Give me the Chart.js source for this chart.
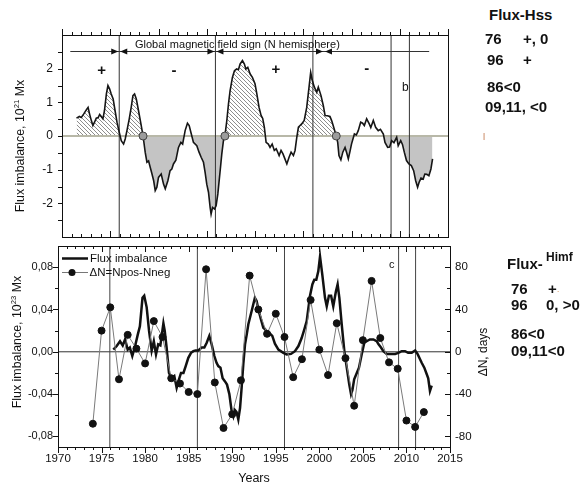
<!DOCTYPE html>
<html>
<head>
<meta charset="utf-8">
<script src="https://cdn.jsdelivr.net/npm/chart.js@4.4.1/dist/chart.umd.min.js"></script>
<style>
html, body { margin: 0; padding: 0; background: #fff; }
#wrap { position: relative; width: 580px; height: 486px; overflow: hidden;
        font-family: "Liberation Sans", Arial, sans-serif; color: #111; }
#wrap canvas { position: absolute; }
.t { position: absolute; white-space: nowrap; line-height: 1; }
.c { transform: translate(-50%, -50%); }
.r { transform: translate(-50%, -50%) rotate(-90deg); }
sup { font-size: 0.62em; vertical-align: 0.6em; line-height: 0; }
</style>
</head>
<body>
<div id="wrap">
  <canvas id="topChart" width="470" height="242" style="left:0;top:0"></canvas>
  <canvas id="bottomChart" width="500" height="246" style="left:0;top:240px"></canvas>
</div>
<script>
// ---- top panel: flux imbalance, 10^21 Mx ----
const topYears = [
  1971.5, 1971.8, 1972.0, 1972.24, 1972.5, 1972.7, 1972.86, 1973.05,
  1973.2, 1973.37, 1973.55, 1973.75, 1973.9, 1974.07, 1974.24, 1974.4,
  1974.6, 1974.76, 1974.93, 1975.1, 1975.3, 1975.5, 1975.7, 1975.93,
  1976.14, 1976.38, 1976.55, 1976.73, 1976.97, 1977.17, 1977.35, 1977.52,
  1977.7, 1977.93, 1978.18, 1978.4, 1978.62, 1978.8, 1978.97, 1979.14,
  1979.3, 1979.5, 1979.66, 1979.83, 1980.0, 1980.28, 1980.52, 1980.7,
  1980.97, 1981.2, 1981.38, 1981.55, 1981.8, 1982.07, 1982.32, 1982.5,
  1982.76, 1983.0, 1983.18, 1983.4, 1983.62, 1983.97, 1984.2, 1984.42,
  1984.66, 1984.83, 1985.0, 1985.18, 1985.35, 1985.45, 1985.6, 1985.8,
  1985.97, 1986.15, 1986.39, 1986.56, 1986.73, 1986.88, 1987.08, 1987.25,
  1987.42, 1987.66, 1987.87, 1988.1, 1988.28, 1988.46, 1988.7, 1988.9,
  1989.05, 1989.25, 1989.5, 1989.73, 1990.0, 1990.19, 1990.42, 1990.63,
  1990.8, 1990.97, 1991.15, 1991.38, 1991.56, 1991.78, 1992.0, 1992.2,
  1992.5, 1992.7, 1992.9, 1993.1, 1993.3, 1993.53, 1993.74, 1993.98,
  1994.15, 1994.33, 1994.5, 1994.67, 1994.84, 1995.1, 1995.36, 1995.6,
  1995.77, 1995.94, 1996.15, 1996.4, 1996.56, 1996.84, 1997.08, 1997.26,
  1997.5, 1997.77, 1997.95, 1998.1, 1998.42, 1998.57, 1998.7, 1998.9,
  1999.1, 1999.33, 1999.5, 1999.67, 1999.85, 2000.0, 2000.3, 2000.5,
  2000.7, 2000.95, 2001.15, 2001.33, 2001.57, 2001.84, 2002.0, 2002.26,
  2002.5, 2002.77, 2003.0, 2003.3, 2003.47, 2003.75, 2003.95, 2004.16,
  2004.4, 2004.68, 2004.84, 2005.1, 2005.28, 2005.47, 2005.7, 2005.95,
  2006.2, 2006.44, 2006.65, 2006.85, 2007.0, 2007.2, 2007.43, 2007.6,
  2007.8, 2008.02, 2008.23, 2008.4
];
const topFlux = [
  0.53, 0.58, 0.55, 0.65, 0.77, 0.85, 0.65, 0.45,
  0.31, 0.41, 0.53, 0.55, 0.64, 0.58, 0.51, 0.75,
  1.25, 1.50, 1.40, 1.25, 1.10, 0.75, 0.41, 0.11,
  -0.14, -0.24, -0.09, 0.16, 0.51, 0.85, 1.20, 1.25,
  1.10, 0.75, 0.36, 0, -0.48, -0.78, -0.74, -0.93,
  -1.10, -1.33, -1.62, -1.52, -1.23, -1.13, -1.43, -1.57,
  -1.33, -1.03, -0.98, -0.83, -0.72, -0.34, -0.19, -0.24,
  0.16, 0.38, 0.31, 0.06, -0.19, -0.29, -0.48, -0.63,
  -0.78, -1.08, -1.43, -1.67, -2.12, -2.32, -2.12, -2.17,
  -2.07, -1.72, -1.03, -0.53, -0.14, 0, 0.46, 0.95,
  1.35, 1.74, 1.94, 1.99, 1.97, 2.14, 2.24, 2.14,
  1.99, 2.04, 1.84, 1.74, 1.55, 1.25, 0.85, 0.61,
  0.52, 0.26, -0.19, -0.24, -0.34, -0.24, -0.43, -0.38,
  -0.58, -0.43, -0.53, -0.68, -0.83, -0.63, -0.48, -0.58,
  -0.43, -0.04, 0.26, 0.31, 0.36, 0.46, 0.85, 1.45,
  1.89, 1.65, 1.45, 1.30, 1.45, 1.20, 0.90, 0.61,
  0.60, 0.58, 0.45, 0.31, 0, -0.19, -0.58, -0.71,
  -0.48, -0.34, -0.50, -0.68, -0.45, -0.24, 0.06, 0.03,
  0.16, 0.41, 0.38, 0.31, 0.51, 0.36, 0.25, 0.46,
  0.26, 0.16, 0.20, 0.06, -0.19, -0.34, -0.33, -0.14,
  -0.20, -0.04, -0.29, -0.14, -0.25, -0.48, -0.73, -0.83,
  -0.88, -1.03, -1.33, -1.52, -1.38, -1.25, -1.28, -1.13,
  -1.14, -1.18, -0.98, -0.68
];
const topReversals = [1978.4, 1986.88, 1998.42];          // grey circles on the zero line
const topLines = [1975.93, 1985.9, 1996.0, 2004.1, 2006.0];
const topTicks = [-2, -1, 0, 1, 2];
const arrowLevel = 2.51;
const arrowSpan = [1970.86, 2008.05];
const arrowJoins = [1975.93, 1985.9, 1997.15];

// ---- bottom panel: flux imbalance, 10^23 Mx, and deltaN in days ----
const fluxYears = [
  1976.35, 1976.74, 1977.12, 1977.43, 1977.7, 1978.0, 1978.25, 1978.53,
  1978.84, 1979.15, 1979.4, 1979.7, 1979.9, 1980.18, 1980.45, 1980.75,
  1981.0, 1981.25, 1981.5, 1981.75, 1982.1, 1982.25, 1982.47, 1982.74,
  1983.05, 1983.35, 1983.62, 1983.85, 1984.12, 1984.4, 1984.66, 1984.96,
  1985.27, 1985.54, 1985.8, 1986.1, 1986.5, 1986.8, 1987.07, 1987.37,
  1987.64, 1987.95, 1988.2, 1988.4, 1988.65, 1988.9, 1989.17, 1989.4,
  1989.67, 1989.93, 1990.13, 1990.3, 1990.5, 1990.7, 1990.9, 1991.08,
  1991.27, 1991.47, 1991.66, 1991.85, 1992.23, 1992.6, 1992.8, 1993.0,
  1993.3, 1993.57, 1993.8, 1994.07, 1994.35, 1994.6, 1994.9, 1995.3,
  1995.87, 1996.25, 1996.75, 1997.2, 1997.6, 1997.97, 1998.27, 1998.55,
  1998.93, 1999.2, 1999.42, 1999.65, 1999.88, 2000.08, 2000.34, 2000.65,
  2000.85, 2001.1, 2001.35, 2001.6, 2001.9, 2002.1, 2002.3, 2002.57,
  2002.87, 2003.15, 2003.44, 2003.64, 2003.8, 2004.0, 2004.3, 2004.55,
  2004.86, 2005.16, 2005.43, 2005.8, 2006.2, 2006.58, 2006.8, 2007.08,
  2007.35, 2007.73, 2008.2, 2008.7, 2009.07, 2009.46, 2009.84, 2010.2,
  2010.6, 2011.0, 2011.3, 2011.56, 2011.75, 2012.05, 2012.32, 2012.5,
  2012.7, 2012.9
];
const fluxValues = [
  0.002, 0.0054, 0.010, 0.006, 0.0117, 0.002, 0.004, -0.004,
  0.005, 0.016, 0.024, 0.051, 0.053, 0.042, 0.020, 0.001,
  0.010, -0.0025, 0.007, 0.006, 0.027, 0.020, 0.004, -0.020,
  -0.025, -0.023, -0.034, -0.027, -0.020, -0.020, -0.0135, -0.0057,
  -0.001, 0.0006, 0.0013, 0.0013, 0.004, 0.004, 0.0085, 0.015,
  0.007, -0.004, -0.0104, -0.0135, -0.015, -0.025, -0.028, -0.031,
  -0.040, -0.056, -0.061, -0.055, -0.057, -0.064, -0.053, -0.034,
  -0.012, 0.007, 0.016, 0.026, 0.0385, 0.051, 0.048, 0.040,
  0.0306, 0.0227, 0.021, 0.016, 0.017, 0.015, 0.0076, 0.002,
  -0.001, -0.0025, -0.002, 0.0006, 0.0054, 0.013, 0.021, 0.029,
  0.053, 0.0637, 0.068, 0.068, 0.076, 0.090, 0.073, 0.051,
  0.043, 0.053, 0.053, 0.043, 0.057, 0.0637, 0.051, 0.026,
  0.0006, -0.015, -0.031, -0.040, -0.036, -0.026, -0.020, -0.015,
  -0.0025, 0.0085, 0.010, 0.0117, 0.0117, 0.010, 0.007, 0.004,
  0.0006, -0.002, -0.002, -0.002, -0.001, 0.0006, 0.0006, -0.001,
  -0.001, 0.0013, -0.0025, -0.007, -0.0104, -0.015, -0.021, -0.025,
  -0.037, -0.032
];
const dnYears = [
  1974, 1975, 1976, 1977, 1978, 1979, 1980, 1981, 1982, 1983,
  1984, 1985, 1986, 1987, 1988, 1989, 1990, 1991, 1992, 1993,
  1994, 1995, 1996, 1997, 1998, 1999, 2000, 2001, 2002, 2003,
  2004, 2005, 2006, 2007, 2008, 2009, 2010, 2011, 2012
];
const dnDays = [
  -68, 20, 42, -26, 16, 3, -11, 29, 14, -25,
  -30, -38, -40, 78, -29, -72, -59, -27, 72, 40,
  17, 36, 14, -24, -7, 49, 2, -22, 27, -6,
  -51, 11, 67, 13, -10, -16, -65, -71, -57
];
const bottomLines = [1975.95, 1986.0, 1996.0, 2009.1, 2011.05];
const yearTicks = [1970, 1975, 1980, 1985, 1990, 1995, 2000, 2005, 2010, 2015];
const fluxTicks = [-0.08, -0.04, 0, 0.04, 0.08];
const dayTicks = [-80, -40, 0, 40, 80];

const FONT = '"Liberation Sans", Arial, sans-serif';
Chart.defaults.font.family = FONT;
Chart.defaults.color = '#111';

const range = (a, b, s) =>
    Array.from({ length: Math.round((b - a) / s) + 1 }, (_, i) => +(a + i * s).toFixed(4));

// frame plus small tick marks (positive len = outward, negative = inward)
const axisMarks = {
    id: 'axisMarks',
    afterDatasetsDraw(chart, args, opts) {
        const { ctx, chartArea: a } = chart;
        ctx.save();
        ctx.strokeStyle = '#111';
        ctx.lineWidth = 1;
        ctx.strokeRect(Math.round(a.left) + 0.5, Math.round(a.top) + 0.5,
            Math.round(a.right - a.left), Math.round(a.bottom - a.top));
        for (const m of opts.marks) {
            const s = chart.scales[m.scale];
            ctx.beginPath();
            for (const v of m.values) {
                const p = Math.round(s.getPixelForValue(v)) + 0.5;
                if (m.side === 'top') { ctx.moveTo(p, a.top); ctx.lineTo(p, a.top - m.len); }
                else if (m.side === 'bottom') { ctx.moveTo(p, a.bottom); ctx.lineTo(p, a.bottom + m.len); }
                else if (m.side === 'left') { ctx.moveTo(a.left, p); ctx.lineTo(a.left - m.len, p); }
                else { ctx.moveTo(a.right, p); ctx.lineTo(a.right + m.len, p); }
            }
            ctx.stroke();
        }
        ctx.restore();
    }
};

// the "global field sign" arrow bar of the top panel
const signArrows = {
    id: 'signArrows',
    afterDatasetsDraw(chart) {
        const { ctx, scales: { x, y } } = chart;
        const yy = Math.round(y.getPixelForValue(arrowLevel)) + 0.5;
        ctx.save();
        ctx.strokeStyle = '#333';
        ctx.fillStyle = '#111';
        ctx.lineWidth = 1;
        ctx.beginPath();
        ctx.moveTo(x.getPixelForValue(arrowSpan[0]), yy);
        ctx.lineTo(x.getPixelForValue(arrowSpan[1]), yy);
        ctx.stroke();
        const head = (tip, dir) => {
            ctx.beginPath();
            ctx.moveTo(tip, yy);
            ctx.lineTo(tip + dir * 7, yy - 3);
            ctx.lineTo(tip + dir * 7, yy + 3);
            ctx.closePath();
            ctx.fill();
        };
        for (const j of arrowJoins) {
            const px = x.getPixelForValue(j);
            head(px - 1, -1);
            head(px + 1, 1);
        }
        ctx.restore();
    }
};

// legend samples of the bottom panel
const legendSamples = {
    id: 'legendSamples',
    afterDatasetsDraw(chart) {
        const { ctx, chartArea: a } = chart;
        ctx.save();
        ctx.strokeStyle = '#111';
        ctx.lineWidth = 2.5;
        ctx.beginPath();
        ctx.moveTo(a.left + 4, a.top + 12.5);
        ctx.lineTo(a.left + 30, a.top + 12.5);
        ctx.stroke();
        ctx.strokeStyle = '#777';
        ctx.lineWidth = 1;
        ctx.beginPath();
        ctx.moveTo(a.left + 4, a.top + 26.5);
        ctx.lineTo(a.left + 30, a.top + 26.5);
        ctx.stroke();
        ctx.fillStyle = '#111';
        ctx.beginPath();
        ctx.arc(a.left + 14, a.top + 26.5, 3.5, 0, Math.PI * 2);
        ctx.fill();
        ctx.restore();
    }
};

function makeHatch() {
    const c = document.createElement('canvas');
    c.width = 4;
    c.height = 4;
    const g = c.getContext('2d');
    g.strokeStyle = '#707070';
    g.lineWidth = 0.8;
    g.beginPath();
    for (const k of [-4, 0, 4]) { g.moveTo(k, 0); g.lineTo(k + 4, 4); }
    g.stroke();
    return g.createPattern(c, 'repeat');
}

// fixed axis boxes, without the label overhang Chart.js adds to the layout
function noPad(s) { s.paddingTop = 0; s.paddingBottom = 0; s.paddingLeft = 0; s.paddingRight = 0; }
function fitWidth(w) { return s => { s.width = w; noPad(s); }; }
function fitHeight(h) { return s => { s.height = h; noPad(s); }; }
function useTicks(list) { return s => { s.ticks = list.map(value => ({ value })); }; }

const none = 'rgba(0,0,0,0)';

// ---------- top chart ----------
const hatch = makeHatch();
const topSeries = topYears.map((x, i) => ({ x, y: topFlux[i] }));
const bounds = [topYears[0], ...topReversals, topYears[topYears.length - 1]];
const fillSets = bounds.slice(0, -1).map((from, k) => ({
    data: topSeries.filter(p => p.x >= from && p.x <= bounds[k + 1]),
    borderColor: none,
    borderWidth: 0,
    pointRadius: 0,
    fill: { target: 'origin', above: k % 2 ? none : hatch, below: k % 2 ? '#c4c4c4' : none }
}));

new Chart(document.getElementById('topChart'), {
    type: 'line',
    data: {
        datasets: [
            {
                data: topReversals.map(x => ({ x, y: 0 })),
                showLine: false,
                pointRadius: 4,
                pointBackgroundColor: '#9c9c9c',
                pointBorderColor: '#444',
                pointBorderWidth: 1
            },
            {
                data: topSeries,
                borderColor: '#151515',
                borderWidth: 1.6,
                pointRadius: 0,
                tension: 0
            },
            ...topLines.map(x => ({
                data: [{ x, y: -3 }, { x, y: 3 }],
                borderColor: '#333',
                borderWidth: 1,
                pointRadius: 0
            })),
            {
                data: [{ x: 1970, y: 0 }, { x: 2010, y: 0 }],
                borderColor: '#b8b8a8',
                borderWidth: 2,
                pointRadius: 0
            },
            ...fillSets
        ]
    },
    options: {
        responsive: false,
        animation: false,
        layout: { padding: { left: 0, right: 22, top: 35, bottom: 0 } },
        plugins: {
            legend: { display: false },
            tooltip: { enabled: false },
            axisMarks: {
                marks: [
                    { scale: 'x', side: 'top', values: range(1970, 2010, 1), len: 3 },
                    { scale: 'x', side: 'top', values: range(1970, 2010, 5), len: 6 },
                    { scale: 'x', side: 'bottom', values: range(1970, 2010, 1), len: -3 },
                    { scale: 'x', side: 'bottom', values: range(1970, 2010, 5), len: -6 },
                    { scale: 'y', side: 'left', values: range(-2.5, 2.5, 0.5), len: 4 }
                ]
            }
        },
        scales: {
            x: {
                type: 'linear', min: 1970, max: 2010,
                grid: { display: false, drawTicks: false },
                border: { display: false },
                ticks: { display: false },
                afterFit: fitHeight(5)
            },
            y: {
                min: -3, max: 3,
                grid: { display: false, drawTicks: false },
                border: { display: false },
                ticks: { padding: 9, font: { size: 12 }, color: '#111', callback: v => String(v) },
                afterBuildTicks: useTicks(topTicks),
                afterFit: fitWidth(62)
            }
        }
    },
    plugins: [axisMarks, signArrows]
});

// ---------- bottom chart ----------
new Chart(document.getElementById('bottomChart'), {
    type: 'line',
    data: {
        datasets: [
            {
                data: dnYears.map((x, i) => ({ x, y: dnDays[i] })),
                yAxisID: 'y2',
                borderColor: '#7a7a7a',
                borderWidth: 1,
                pointRadius: 3.5,
                pointBackgroundColor: '#111',
                pointBorderColor: '#111',
                tension: 0
            },
            {
                data: fluxYears.map((x, i) => ({ x, y: fluxValues[i] })),
                yAxisID: 'y',
                borderColor: '#111',
                borderWidth: 2.5,
                pointRadius: 0,
                tension: 0
            },
            ...bottomLines.map(x => ({
                data: [{ x, y: -0.09 }, { x, y: 0.1 }],
                yAxisID: 'y',
                borderColor: '#444',
                borderWidth: 1,
                pointRadius: 0
            })),
            {
                data: [{ x: 1970, y: 0 }, { x: 2015, y: 0 }],
                yAxisID: 'y',
                borderColor: '#333',
                borderWidth: 1,
                pointRadius: 0
            }
        ]
    },
    options: {
        responsive: false,
        animation: false,
        layout: { padding: { left: 0, right: 0, top: 6, bottom: 0 } },
        plugins: {
            legend: { display: false },
            tooltip: { enabled: false },
            axisMarks: {
                marks: [
                    { scale: 'x', side: 'top', values: range(1970, 2015, 1), len: -3 },
                    { scale: 'x', side: 'top', values: range(1970, 2015, 5), len: -6 },
                    { scale: 'x', side: 'bottom', values: range(1970, 2015, 1), len: 3 },
                    { scale: 'x', side: 'bottom', values: range(1970, 2015, 5), len: 6 },
                    { scale: 'y', side: 'left', values: range(-0.08, 0.08, 0.02), len: 3 },
                    { scale: 'y', side: 'left', values: range(-0.08, 0.08, 0.04), len: 5 },
                    { scale: 'y2', side: 'right', values: range(-80, 100, 20), len: -3 },
                    { scale: 'y2', side: 'right', values: range(-80, 80, 40), len: -5 }
                ]
            }
        },
        scales: {
            x: {
                type: 'linear', min: 1970, max: 2015,
                grid: { display: false, drawTicks: false },
                border: { display: false },
                ticks: { padding: 5, font: { size: 11.5 }, color: '#111', maxRotation: 0, callback: v => String(v) },
                afterBuildTicks: useTicks(yearTicks),
                afterFit: fitHeight(39)
            },
            y: {
                position: 'left', min: -0.09, max: 0.1,
                grid: { display: false, drawTicks: false },
                border: { display: false },
                ticks: { padding: 5, font: { size: 11 }, color: '#111',
                         callback: v => v.toFixed(2).replace('.', ',') },
                afterBuildTicks: useTicks(fluxTicks),
                afterFit: fitWidth(58)
            },
            y2: {
                position: 'right', min: -90, max: 100,
                grid: { display: false, drawTicks: false },
                border: { display: false },
                ticks: { padding: 5, font: { size: 11.5 }, color: '#111', callback: v => String(v) },
                afterBuildTicks: useTicks(dayTicks),
                afterFit: fitWidth(50)
            }
        }
    },
    plugins: [axisMarks, legendSamples]
});

// ---------- text ----------
const wrap = document.getElementById('wrap');
function label(html, x, cy, size, extra) {
    const el = document.createElement('div');
    el.className = 't' + (extra && extra.cls ? ' ' + extra.cls : '');
    el.innerHTML = html;
    el.style.fontSize = size + 'px';
    el.style.left = x + 'px';
    const centered = extra && extra.cls;
    el.style.top = (centered ? cy : cy - 0.49 * size) + 'px';
    if (extra && extra.bold) el.style.fontWeight = 'bold';
    if (extra && extra.color) el.style.color = extra.color;
    wrap.appendChild(el);
}

label('Flux imbalance, 10<sup>21</sup> Mx', 20, 146, 12.4, { cls: 'r' });
label('Flux imbalance, 10<sup>23</sup> Mx', 17, 342, 12.4, { cls: 'r' });
label('&Delta;N, days', 483, 352, 12, { cls: 'r' });
label('Years', 254, 478, 12.5, { cls: 'c' });

label('Global magnetic field sign (N hemisphere)', 135, 44, 11);
label('+', 101.7, 69, 15, { cls: 'c', bold: true });
label('-', 174, 69, 15, { cls: 'c', bold: true });
label('+', 276, 68, 15, { cls: 'c', bold: true });
label('-', 366.7, 67, 15, { cls: 'c', bold: true });
label('b', 402, 87, 12);
label('c', 389, 264.5, 11);

label('Flux imbalance', 90, 258.5, 11.5);
label('&Delta;N=Npos-Nneg', 89.5, 272.3, 11.5);

label('Flux-Hss', 489, 14, 15, { bold: true });
label('76', 485, 38, 15, { bold: true });
label('+, 0', 523, 38, 15, { bold: true });
label('96', 487, 59.5, 15, { bold: true });
label('+', 523, 59.5, 15, { bold: true });
label('86&lt;0', 487, 86, 15, { bold: true });
label('09,11, &lt;0', 485, 106, 15, { bold: true });
label('|', 483, 136, 8, { color: '#b0541e' });

label('Flux-', 507, 263, 15, { bold: true });
label('Himf', 546, 257, 12, { bold: true });
label('76', 511, 288.5, 15, { bold: true });
label('+', 548, 288.5, 15, { bold: true });
label('.', 557, 290, 8, { color: '#d07020' });
label('96', 511, 304.5, 15, { bold: true });
label('0, &gt;0', 546, 304.5, 15, { bold: true });
label('86&lt;0', 511, 333.5, 15, { bold: true });
label('09,11&lt;0', 511, 350, 15, { bold: true });
</script>
</body>
</html>
